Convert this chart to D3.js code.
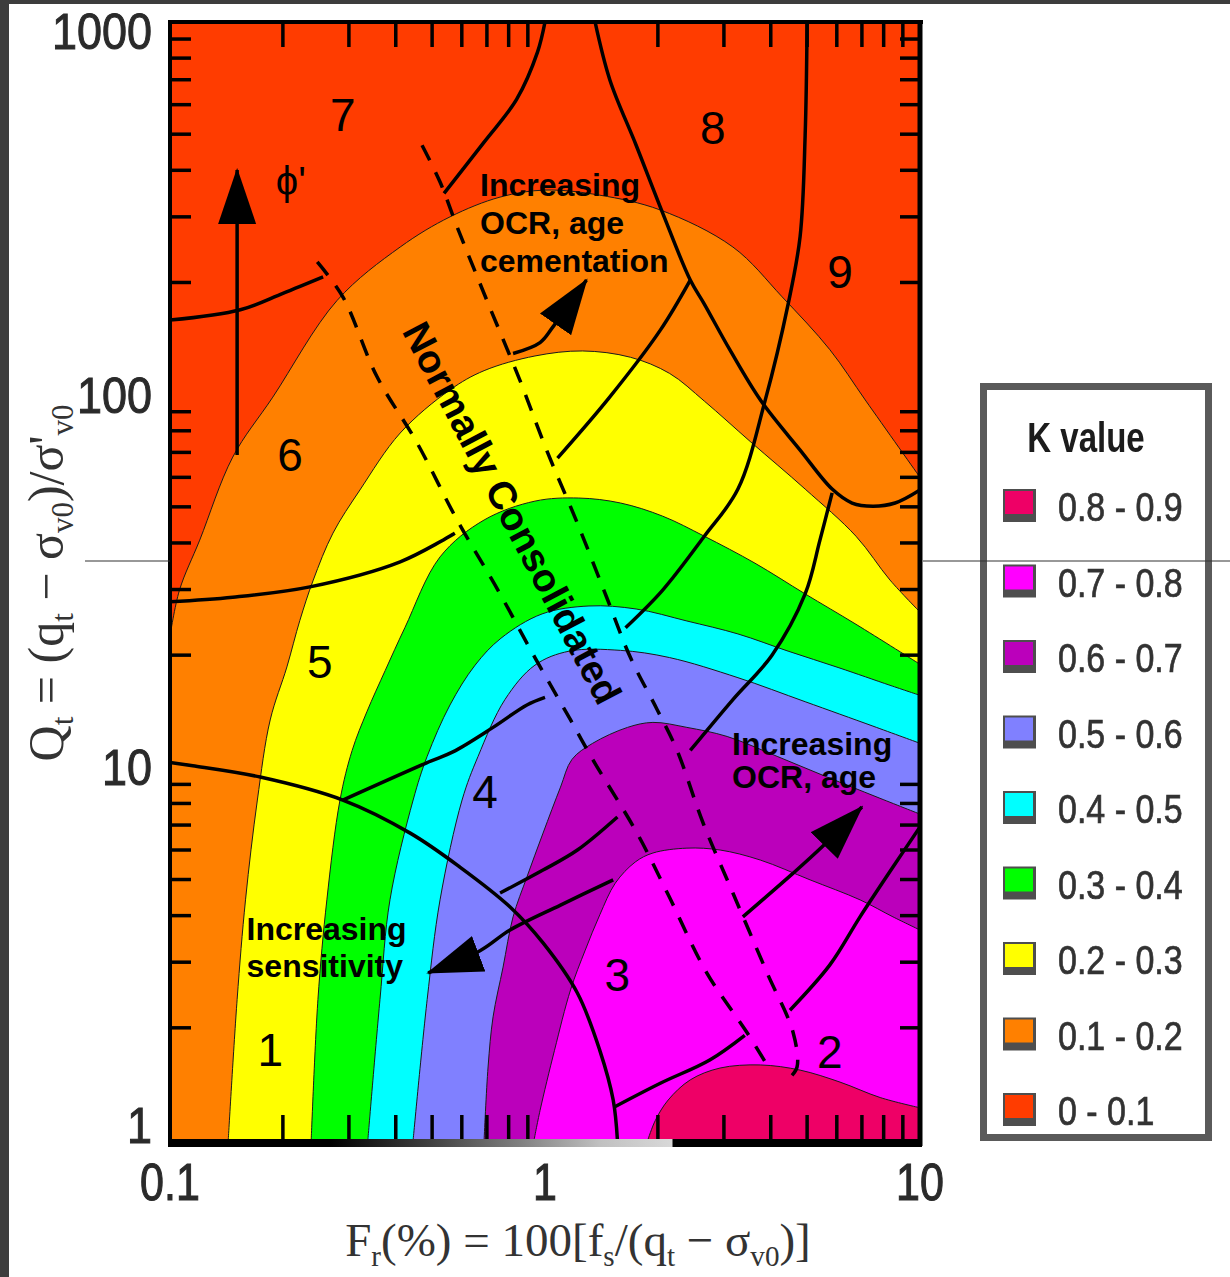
<!DOCTYPE html>
<html>
<head>
<meta charset="utf-8">
<script src="https://cdn.jsdelivr.net/npm/d3@7"></script>
<style>
  body { margin: 0; background: #fff; }
  svg { display: block; }
</style>
</head>
<body>
<svg id="chart" width="1230" height="1277"></svg>
<script>
// legend, top to bottom
let kLabels = ["0.8 - 0.9", "0.7 - 0.8", "0.6 - 0.7", "0.5 - 0.6", "0.4 - 0.5", "0.3 - 0.4", "0.2 - 0.3", "0.1 - 0.2", "0 - 0.1"]
let kColors = ["#ee0066", "#ff00ff", "#bb00bb", "#8080ff", "#00ffff", "#00ff00", "#ffff00", "#ff8000", "#ff3c00"]

// K contour boundaries, [Fr %, Qt]
let k01 = [[0.1,22.5],[0.106,29.9],[0.12,40.7],[0.147,68],[0.188,98.5],[0.279,179],[0.411,249],[0.558,300],[0.759,339],[1.0,354],[1.40,343],[2.03,313],[3.17,249],[4.29,183],[5.75,132],[7.18,96.1],[10,60]]
let k02 = [[0.143,1],[0.151,2.38],[0.159,4.41],[0.171,8.17],[0.185,13.4],[0.205,18.6],[0.222,24.8],[0.241,31.8],[0.272,42.5],[0.321,55.5],[0.411,78.9],[0.558,103],[0.688,116],[0.94,127],[1.26,131],[1.69,126],[2.15,114],[2.66,96.1],[3.54,74.6],[4.94,55.8],[6.75,41.7],[8.32,31.8],[10,26.1]]
let k03 = [[0.238,1],[0.248,2.38],[0.262,4.41],[0.284,8.17],[0.306,11.1],[0.335,14.1],[0.375,18.2],[0.423,23.7],[0.525,36.7],[0.688,46.1],[0.94,51.8],[1.23,52.8],[1.59,51.2],[2.06,47.2],[2.66,41.7],[3.63,35.3],[4.94,29.2],[6.75,24.2],[10,18.9]]
let k04 = [[0.337,1],[0.363,2.38],[0.386,4.41],[0.445,8.17],[0.485,10.7],[0.558,14.7],[0.651,18.8],[0.763,22.2],[0.982,25.8],[1.31,27.1],[1.75,26.6],[2.39,24.7],[3.27,22.8],[4.45,20.5],[6.08,18.5],[8.32,16.6],[10,15.6]]
let k05 = [[0.445,1],[0.485,2.38],[0.525,4.41],[0.601,8.17],[0.663,10.7],[0.782,15.2],[0.94,18.8],[1.16,20.5],[1.59,20.6],[2.15,19.7],[3.27,17.4],[4.94,15.0],[7.49,12.9],[10,11.6]]
let k06 = [[0.688,1],[0.705,1.57],[0.727,2.14],[0.773,2.91],[0.822,3.97],[0.895,5.08],[0.988,6.66],[1.10,8.85],[1.18,10.5],[1.34,11.6],[1.66,12.8],[1.94,13.2],[2.39,12.8],[3.06,12.1],[4.16,10.7],[5.65,9.42],[7.68,8.32],[10,7.49]]
let k07 = [[0.935,1],[0.97,1.2],[1.06,1.74],[1.17,2.53],[1.28,3.23],[1.40,4.02],[1.54,4.89],[1.74,5.57],[1.94,5.89],[2.39,6.07],[2.93,6.0],[3.75,5.64],[5.09,4.99],[6.92,4.41],[8.47,3.97],[10,3.66]]
let k08 = [[1.88,1],[1.97,1.13],[2.13,1.28],[2.44,1.45],[2.93,1.56],[3.75,1.59],[4.79,1.54],[6.12,1.43],[7.83,1.30],[10,1.22]]

// soil behaviour type zone boundaries (solid)
let zone1Line = [[0.1,10.3],[0.115,10.1],[0.174,9.42],[0.289,8.17],[0.437,6.66],[0.593,5.4],[0.807,4.22],[0.988,3.38],[1.22,2.48],[1.40,1.74],[1.52,1.28],[1.56,1]]
let line45a = [[0.289,8.17],[0.485,10.3],[0.568,11.0],[0.727,12.8],[0.895,14.7],[1.0,15.4]]
let line34a = [[0.759,4.6],[0.988,5.3],[1.22,6.0],[1.56,7.36]]
let line34b = [[2.44,11.1],[3.17,15.2],[4.03,20.0],[4.94,29.2],[5.41,40.7],[5.83,54.5]]
let line23a = [[1.54,1.23],[2.03,1.42],[2.75,1.64],[3.41,1.91]]
let line23b = [[4.5,2.23],[5.75,2.95],[6.92,3.97],[8.47,5.4],[10,6.92]]
let line67a = [[0.1,158.5],[0.154,169],[0.2,187],[0.256,207]]
let line67b = [[0.538,347],[0.688,476],[0.84,620],[0.955,830],[1.0,1000]]
let line56a = [[0.1,27.8],[0.147,28.6],[0.236,30.5],[0.411,35.6],[0.575,42.5]]
let line56b = [[1.08,67.6],[1.48,97.9],[2.03,149],[2.44,203]]
let line78 = [[1.36,1000],[1.49,698],[1.75,467],[2.06,307],[2.44,203],[2.66,175],[3.11,132],[3.77,96.1],[4.79,71],[5.83,55.8],[6.59,51.2],[7.49,50.2],[8.58,51.2],[10,55.5]]
let line89 = [[5.0,1000],[4.94,497],[4.79,266],[4.45,175],[3.86,96.1],[3.27,55.8],[2.66,41.7],[2.06,29.9],[1.64,23.7]]

// normally consolidated band (dashed)
let ncLeft = [[0.247,227],[0.289,183],[0.356,112],[0.456,74.2],[0.583,46.1],[0.749,29.9],[0.94,19.7],[1.17,13.4],[1.34,10.5],[1.76,6.66],[2.12,4.6],[2.70,2.81],[3.46,1.94],[3.91,1.59]]
let ncRight = [[0.47,467],[0.525,372],[0.583,282],[0.70,179],[0.858,109],[1.01,71],[1.22,45.2],[1.46,28.6],[1.69,19.7],[1.99,14.3],[2.25,11.1],[2.64,7.09],[3.17,4.6],[3.91,2.81],[4.59,1.94],[4.70,1.57],[4.50,1.47]]

// arrows, last point is the tip
let arrowPhi = [[0.151,68.9],[0.151,280],[0.151,401]]
let arrowOcrTop = [[0.822,129],[0.97,138],[1.05,152],[1.29,203]]
let arrowSens = [[1.52,4.99],[1.10,4.27],[0.807,3.66],[0.671,3.22],[0.488,2.81]]
let arrowOcrLow = [[3.37,3.97],[4.59,5.2],[5.51,6.15],[7.0,7.83]]

// labels
let zoneNums = [["7",0.289,563],["8",2.8,519],["9",6.12,213],["6",0.209,68.9],["5",0.251,19.2],["4",0.692,8.59],["3",1.56,2.77],["2",5.75,1.72],["1",0.185,1.74]]
let notes = [
  {lines: ["Increasing", "OCR, age", "cementation"], fr: 0.671, qt: 341, step: 38},
  {lines: ["Increasing", "OCR, age"], fr: 3.155, qt: 10.8, step: 33},
  {lines: ["Increasing", "sensitivity"], fr: 0.160, qt: 3.44, step: 37}
]
let ncLabel = ["Normally Consolidated", 0.817, 48.1]
let phiLabel = ["ϕ'", 0.21, 343]
let yTickVals = [1, 10, 100, 1000]
let xTickVals = [0.1, 1, 10]

let svg = d3.select("#chart")
let x = d3.scaleLog().domain([0.1, 10]).range([170, 920])
let y = d3.scaleLog().domain([1, 1000]).range([1140, 22])
let line = d3.line().x(d => x(d[0])).y(d => y(d[1])).curve(d3.curveCatmullRom.alpha(0.5))

let defs = svg.append("defs")
defs.append("clipPath").attr("id", "plotClip")
  .append("rect").attr("x", x(0.1)).attr("y", y(1000)).attr("width", x(10) - x(0.1)).attr("height", y(1) - y(1000))
defs.append("marker").attr("id", "head").attr("markerUnits", "userSpaceOnUse")
  .attr("viewBox", "0 -20 56 40").attr("refX", 54).attr("refY", 0)
  .attr("markerWidth", 56).attr("markerHeight", 40).attr("orient", "auto")
  .append("path").attr("d", "M0,-19L56,0L0,19Z").attr("fill", "#000")
let grad = defs.append("linearGradient").attr("id", "botGrad")
  .attr("gradientUnits", "userSpaceOnUse").attr("x1", 170).attr("x2", 920).attr("y1", 0).attr("y2", 0)
;[[0, "#000"], [0.213, "#000"], [0.347, "#404040"], [0.467, "#808080"], [0.573, "#c0c0c0"], [0.669, "#d8d8d8"], [0.671, "#000"], [1, "#000"]]
  .forEach(s => grad.append("stop").attr("offset", s[0]).attr("stop-color", s[1]))
defs.append("filter").attr("id", "soft").append("feGaussianBlur").attr("stdDeviation", 0.55)

// page frame
svg.append("rect").attr("width", 1230).attr("height", 1277).attr("fill", "#fff")
svg.append("rect").attr("width", 1230).attr("height", 4).attr("fill", "#3d3d3d")
svg.append("rect").attr("width", 9).attr("height", 1277).attr("fill", "#3d3d3d")

// filled K bands
let plot = svg.append("g").attr("clip-path", "url(#plotClip)")
plot.append("rect").attr("x", x(0.1)).attr("y", y(1000)).attr("width", x(10) - x(0.1)).attr("height", y(1) - y(1000))
  .attr("fill", kColors[8])

let bounds = [k01, k02, k03, k04, k05, k06, k07, k08]
function regionPath(pts) {
  let s = line(pts) + `L${x(10)},${y(1)}`
  if (pts[0][1] > 1) s += `L${x(0.1)},${y(1)}`
  return s + "Z"
}
plot.selectAll("path.band").data(bounds).enter().append("path")
  .attr("class", "band")
  .attr("d", regionPath)
  .attr("fill", (d, i) => kColors[7 - i])
plot.selectAll("path.contour").data(bounds).enter().append("path")
  .attr("class", "contour")
  .attr("d", line)
  .attr("fill", "none").attr("stroke", "#1a1a1a").attr("stroke-width", 1)

// zone boundaries
let zoneLines = [zone1Line, line45a, line34a, line34b, line23a, line23b, line67a, line67b, line56a, line56b, line78, line89]
plot.selectAll("path.zone").data(zoneLines).enter().append("path")
  .attr("class", "zone").attr("d", line)
  .attr("fill", "none").attr("stroke", "#000").attr("stroke-width", 3.5)
plot.selectAll("path.nc").data([ncLeft, ncRight]).enter().append("path")
  .attr("class", "nc").attr("d", line)
  .attr("fill", "none").attr("stroke", "#000").attr("stroke-width", 3.5).attr("stroke-dasharray", "17,13")
svg.selectAll("path.arrow").data([arrowPhi, arrowOcrTop, arrowSens, arrowOcrLow]).enter().append("path")
  .attr("class", "arrow").attr("d", line)
  .attr("fill", "none").attr("stroke", "#000").attr("stroke-width", 3.5)
  .attr("marker-end", "url(#head)")

// labels inside the plot
let sans = "'Liberation Sans', Arial, Helvetica, sans-serif"
svg.selectAll("text.zoneNum").data(zoneNums).enter().append("text")
  .attr("class", "zoneNum")
  .attr("x", d => x(d[1])).attr("y", d => y(d[2]) + 16)
  .attr("text-anchor", "middle")
  .style("font-family", sans).style("font-size", "46px").attr("fill", "#000")
  .text(d => d[0])

svg.append("text")
  .attr("x", x(phiLabel[1])).attr("y", y(phiLabel[2]))
  .attr("text-anchor", "middle")
  .style("font-family", sans).style("font-size", "40px")
  .text(phiLabel[0])

notes.forEach(n => {
  let t = svg.append("text")
    .attr("x", x(n.fr)).attr("y", y(n.qt))
    .style("font-family", sans).style("font-size", "32px").style("font-weight", "bold")
  n.lines.forEach((l, i) => {
    t.append("tspan").attr("x", x(n.fr)).attr("dy", i == 0 ? 0 : n.step).text(l)
  })
})

svg.append("text")
  .attr("transform", `translate(${x(ncLabel[1])},${y(ncLabel[2])}) rotate(62.3)`)
  .attr("text-anchor", "middle").attr("dominant-baseline", "central")
  .style("font-family", sans).style("font-size", "39px").style("font-weight", "bold")
  .text(ncLabel[0])

// inward minor ticks on all four sides
let isDecade = v => Math.abs(Math.log10(v) - Math.round(Math.log10(v))) < 1e-6
let xMinor = x.ticks().filter(v => !isDecade(v))
let yMinor = y.ticks().filter(v => !isDecade(v))
let ticks = svg.append("g").attr("stroke", "#000").attr("stroke-width", 3.5)
yMinor.forEach(v => {
  ticks.append("line").attr("x1", x(0.1)).attr("x2", x(0.1) + 21).attr("y1", y(v)).attr("y2", y(v))
  ticks.append("line").attr("x1", x(10) - 20).attr("x2", x(10)).attr("y1", y(v)).attr("y2", y(v))
})
xMinor.forEach(v => {
  ticks.append("line").attr("x1", x(v)).attr("x2", x(v)).attr("y1", y(1000)).attr("y2", y(1000) + 25)
  ticks.append("line").attr("x1", x(v)).attr("x2", x(v)).attr("y1", y(1)).attr("y2", y(1) - 25)
})

// plot frame
svg.append("line").attr("x1", x(0.1)).attr("x2", x(0.1)).attr("y1", y(1000) - 2).attr("y2", y(1) + 6)
  .attr("stroke", "#000").attr("stroke-width", 4)
svg.append("line").attr("x1", x(0.1) - 2).attr("x2", x(10) + 3).attr("y1", y(1000)).attr("y2", y(1000))
  .attr("stroke", "#000").attr("stroke-width", 4)
svg.append("line").attr("x1", x(10)).attr("x2", x(10)).attr("y1", y(1000) - 2).attr("y2", y(1) + 6)
  .attr("stroke", "#000").attr("stroke-width", 5)
svg.append("line").attr("x1", x(0.1) - 2).attr("x2", x(10) + 2).attr("y1", y(1) + 3).attr("y2", y(1) + 3)
  .attr("stroke", "url(#botGrad)").attr("stroke-width", 8)

// tick labels (kept inside the page at both ends)
let fmt = d3.format("~g")
svg.selectAll("text.ylab").data(yTickVals).enter().append("text")
  .attr("class", "ylab")
  .attr("transform", d => `translate(152,${Math.max(49, Math.min(y(d) + 18, 1143))}) scale(1,1.12)`)
  .attr("text-anchor", "end")
  .style("font-family", sans).style("font-size", "45px")
  .attr("fill", "#2a2a2a").attr("stroke", "#2a2a2a").attr("stroke-width", 0.9)
  .attr("filter", "url(#soft)")
  .text(fmt)
svg.selectAll("text.xlab").data(xTickVals).enter().append("text")
  .attr("class", "xlab")
  .attr("transform", d => `translate(${x(d)},1200) scale(1,1.2)`)
  .attr("text-anchor", "middle")
  .style("font-family", sans).style("font-size", "43px")
  .attr("fill", "#2a2a2a").attr("stroke", "#2a2a2a").attr("stroke-width", 0.9)
  .attr("filter", "url(#soft)")
  .text(fmt)

// axis titles
let serif = "'Liberation Serif', 'Times New Roman', serif"
function mathText(sel, parts) {
  let shift = 0
  parts.forEach(p => {
    let target = p[1] ? 10 : 0
    let t = sel.append("tspan").attr("dy", target - shift).text(p[0])
    if (p[1]) t.style("font-size", "0.62em")
    shift = target
  })
}
let yTitle = svg.append("text")
  .attr("transform", "translate(63,583) rotate(-90)")
  .attr("text-anchor", "middle")
  .style("font-family", serif).style("font-size", "50px").attr("fill", "#333")
mathText(yTitle, [["Q", 0], ["t", 1], [" = (q", 0], ["t", 1], [" − σ", 0], ["v0", 1], [")/σ'", 0], ["v0", 1]])
let xTitle = svg.append("text")
  .attr("x", 578).attr("y", 1256)
  .attr("text-anchor", "middle")
  .style("font-family", serif).style("font-size", "47px").attr("fill", "#333")
mathText(xTitle, [["F", 0], ["r", 1], ["(%) = 100[f", 0], ["s", 1], ["/(q", 0], ["t", 1], [" − σ", 0], ["v0", 1], [")]", 0]])

// legend
let legend = svg.append("g")
legend.append("rect").attr("x", 983.5).attr("y", 386.5).attr("width", 225).attr("height", 751)
  .attr("fill", "#fff").attr("stroke", "#5a5a5a").attr("stroke-width", 7)
legend.append("text")
  .attr("transform", "translate(1086,452) scale(1,1.27)")
  .attr("text-anchor", "middle")
  .style("font-family", sans).style("font-size", "33px").style("font-weight", "bold").attr("fill", "#1a1a1a")
  .attr("filter", "url(#soft)")
  .text("K value")
let ly = d3.scaleLinear().domain([0, kLabels.length - 1]).range([505, 1109])
let items = legend.selectAll("g.item").data(kLabels).enter().append("g").attr("class", "item")
items.append("rect").attr("x", 1003).attr("y", (d, i) => ly(i) - 16).attr("width", 33).attr("height", 33).attr("fill", "#4e4e4e")
items.append("rect").attr("x", 1005).attr("y", (d, i) => ly(i) - 14).attr("width", 28).attr("height", 23).attr("fill", (d, i) => kColors[i])
items.append("text")
  .attr("transform", (d, i) => `translate(1058,${ly(i) + 16}) scale(1,1.2)`)
  .style("font-family", sans).style("font-size", "34px")
  .attr("fill", "#333").attr("stroke", "#333").attr("stroke-width", 0.6)
  .attr("filter", "url(#soft)")
  .text(d => d)

// thin scan line across the page
svg.append("line").attr("x1", 85).attr("x2", x(0.1)).attr("y1", 561).attr("y2", 561).attr("stroke", "#333").attr("stroke-width", 1.2)
svg.append("line").attr("x1", x(10) + 3).attr("x2", 1230).attr("y1", 561).attr("y2", 561).attr("stroke", "#333").attr("stroke-width", 1.2)
</script>
</body>
</html>
